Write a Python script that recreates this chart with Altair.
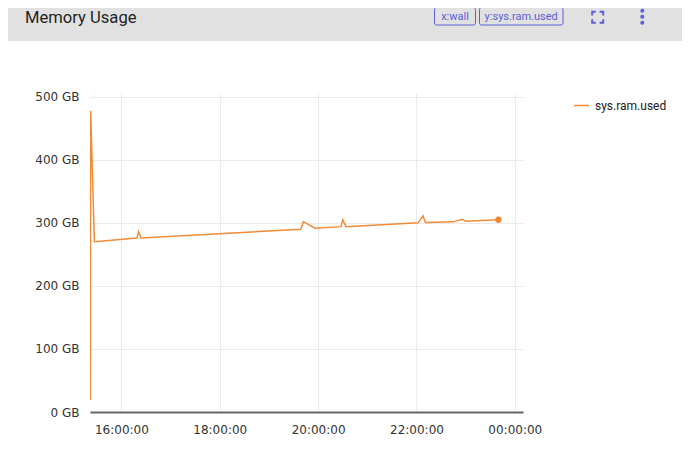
import altair as alt
import pandas as pd

# ---- data ----
times = [
    "2024-01-01T15:22:00", "2024-01-01T15:22:30", "2024-01-01T15:27:00",
    "2024-01-01T16:19:00", "2024-01-01T16:21:00", "2024-01-01T16:24:00",
    "2024-01-01T19:39:00", "2024-01-01T19:42:00", "2024-01-01T19:56:00",
    "2024-01-01T20:28:00", "2024-01-01T20:30:00", "2024-01-01T20:34:00",
    "2024-01-01T22:02:00", "2024-01-01T22:08:00", "2024-01-01T22:11:00",
    "2024-01-01T22:45:00", "2024-01-01T22:56:00", "2024-01-01T23:00:00",
    "2024-01-01T23:40:00",
]
used_gb = [19, 478, 270, 276, 286, 276, 290, 302, 291.5, 294, 305, 294,
           300, 311, 300.5, 301.6, 305.8, 302.7, 305]
series_name = "sys.ram.used"
y_ticks = [0, 100, 200, 300, 400, 500]
x_ticks = [
    alt.DateTime(year=2024, month=1, date=1, hours=16),
    alt.DateTime(year=2024, month=1, date=1, hours=18),
    alt.DateTime(year=2024, month=1, date=1, hours=20),
    alt.DateTime(year=2024, month=1, date=1, hours=22),
    alt.DateTime(year=2024, month=1, date=2, hours=0),
]
x_domain = [
    alt.DateTime(year=2024, month=1, date=1, hours=15, minutes=21, seconds=40),
    alt.DateTime(year=2024, month=1, date=2, hours=0, minutes=10),
]
title_text = "Memory Usage"
btn_labels = ["x:wall", "y:sys.ram.used"]

ORANGE = "#f28a36"
BLUE = "#5b5fd8"
HEADER = "#e1e1e1"

df = pd.DataFrame({"time": times, "used": used_gb, "series": series_name})
last = df.tail(1)

W, H = 433, 319
one = alt.InlineData(values=[{"k": 0}])

x_enc = alt.X(
    "time:T",
    scale=alt.Scale(domain=x_domain, nice=False),
    axis=alt.Axis(values=x_ticks, format="%H:%M:%S", title=None, ticks=False,
                  domainColor="#666", domainWidth=2, labelPadding=12,
                  gridColor="#ebebeb", labelFlush=False),
)
y_enc = alt.Y(
    "used:Q",
    scale=alt.Scale(domain=[0, 506], nice=False),
    axis=alt.Axis(values=y_ticks, labelExpr="datum.value + ' GB'", title=None,
                  ticks=False, domain=False, labelPadding=11, gridColor="#ebebeb"),
)
color_enc = alt.Color(
    "series:N",
    scale=alt.Scale(range=[ORANGE]),
    legend=alt.Legend(orient="none", legendX=483, legendY=4, title=None,
                      symbolType="stroke", symbolSize=225, symbolStrokeWidth=1.5,
                      labelFont="Roboto", labelFontSize=12, labelColor="#222",
                      labelOffset=5),
)

line = alt.Chart(df).mark_line(strokeWidth=1.5, clip=True).encode(x=x_enc, y=y_enc, color=color_enc)
dot = alt.Chart(last).mark_point(filled=True, size=40, opacity=1, color=ORANGE).encode(
    x="time:T", y="used:Q")

# header decorations (pixel positions relative to plot origin)
header = alt.Chart(one).mark_rect(color=HEADER).encode(
    x=alt.value(-90), x2=alt.value(600), y=alt.value(-93), y2=alt.value(-52))
border = alt.Chart(one).mark_rule(color="#e3e3e3", strokeWidth=1).encode(
    x=alt.value(596), y=alt.value(-52), y2=alt.value(370))
title = alt.Chart(one).mark_text(text=title_text, align="left", baseline="middle",
                                 font="Roboto", fontSize=16.6, color="#1f1f1f").encode(
    x=alt.value(-65), y=alt.value(-75))
btn1 = alt.Chart(one).mark_rect(fillOpacity=0, stroke=BLUE, strokeWidth=1, cornerRadius=2).encode(
    x=alt.value(344.5), x2=alt.value(385.5), y=alt.value(-85.5), y2=alt.value(-68))
btn2 = alt.Chart(one).mark_rect(fillOpacity=0, stroke=BLUE, strokeWidth=1, cornerRadius=2).encode(
    x=alt.value(389.5), x2=alt.value(473), y=alt.value(-85.5), y2=alt.value(-68))
t1 = alt.Chart(one).mark_text(text=btn_labels[0], font="Roboto", fontSize=11, color=BLUE,
                              baseline="middle").encode(x=alt.value(365), y=alt.value(-76.5))
t2 = alt.Chart(one).mark_text(text=btn_labels[1], font="Roboto", fontSize=11, color=BLUE,
                              baseline="middle").encode(x=alt.value(431.2), y=alt.value(-76.5))
fs_shape = ("M-1,-0.35L-1,-1L-0.35,-1M0.35,-1L1,-1L1,-0.35"
            "M1,0.35L1,1L0.35,1M-0.35,1L-1,1L-1,0.35")
fs = alt.Chart(one).mark_point(shape=fs_shape, size=121, filled=False, stroke=BLUE,
                               strokeWidth=2, opacity=1).encode(
    x=alt.value(507.7), y=alt.value(-75.7))
k1 = alt.Chart(one).mark_point(filled=True, size=16, color=BLUE, opacity=1).encode(
    x=alt.value(552.3), y=alt.value(-82.3))
k2 = alt.Chart(one).mark_point(filled=True, size=16, color=BLUE, opacity=1).encode(
    x=alt.value(552.3), y=alt.value(-76.3))
k3 = alt.Chart(one).mark_point(filled=True, size=16, color=BLUE, opacity=1).encode(
    x=alt.value(552.3), y=alt.value(-70.3))

chart = alt.layer(
    header, border, title, btn1, btn2, t1, t2, fs, k1, k2, k3, line, dot
).properties(
    width=W, height=H,
    autosize=alt.AutoSizeParams(type="none"),
    padding={"left": 82, "top": 85, "right": 159, "bottom": 30},
    background="white",
).configure_view(stroke=None).configure_axis(
    labelFont="DejaVu Sans", labelFontSize=12, labelColor="#333"
)

chart.save("out.html", embed_options={"renderer": "svg", "actions": False})
